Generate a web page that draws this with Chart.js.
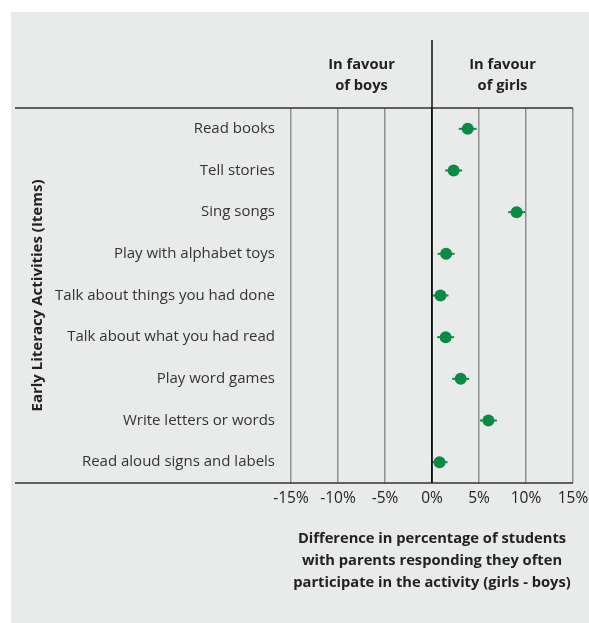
<!DOCTYPE html>
<html>
<head>
<meta charset="utf-8">
<script src="https://cdn.jsdelivr.net/npm/chart.js@4"></script>
<style>
  body { margin: 0; background: #fff; }
  #panel { position: absolute; left: 11px; top: 12px; width: 578px; height: 611px; background: #e9ebea; }
</style>
</head>
<body>
<div id="panel"><canvas id="chart" width="578" height="611"></canvas></div>
<script>
const activities = [
  "Read books",
  "Tell stories",
  "Sing songs",
  "Play with alphabet toys",
  "Talk about things you had done",
  "Talk about what you had read",
  "Play word games",
  "Write letters or words",
  "Read aloud signs and labels"
];
const difference = [3.8, 2.3, 9.0, 1.5, 0.9, 1.45, 3.05, 6.0, 0.8];
const errorHalf = [0.95, 0.9, 0.9, 0.9, 0.85, 0.9, 0.9, 0.9, 0.85];
const xTicks = [-15, -10, -5, 0, 5, 10, 15];

const green = "#0b8a45";
const font = "'Open Sans', sans-serif";

// whiskers, header text and frame lines
const extras = {
  id: "extras",
  beforeDatasetsDraw(chart) {
    const ctx = chart.ctx, x = chart.scales.x, y = chart.scales.y;
    ctx.save();
    ctx.strokeStyle = green;
    ctx.lineWidth = 2;
    difference.forEach((v, i) => {
      const py = y.getPixelForValue(i);
      ctx.beginPath();
      ctx.moveTo(x.getPixelForValue(v - errorHalf[i]), py);
      ctx.lineTo(x.getPixelForValue(v + errorHalf[i]), py);
      ctx.stroke();
    });
    ctx.restore();
  },
  afterDraw(chart) {
    const ctx = chart.ctx, a = chart.chartArea, x = chart.scales.x;
    ctx.save();
    ctx.strokeStyle = "#333";
    ctx.lineWidth = 1.5;
    ctx.beginPath();
    ctx.moveTo(4, a.top); ctx.lineTo(a.right, a.top);
    ctx.moveTo(4, a.bottom); ctx.lineTo(a.right, a.bottom);
    ctx.stroke();
    const x0 = x.getPixelForValue(0);
    ctx.strokeStyle = "#111";
    ctx.beginPath();
    ctx.moveTo(x0, 28); ctx.lineTo(x0, a.bottom);
    ctx.stroke();

    ctx.fillStyle = "#222";
    ctx.font = "bold 14.7px " + font;
    ctx.textAlign = "center";
    ctx.textBaseline = "middle";
    const boysX = (x.getPixelForValue(-15) + x0) / 2;
    const girlsX = (x.getPixelForValue(15) + x0) / 2;
    ctx.fillText("In favour", boysX, 52.5);
    ctx.fillText("of boys", boysX, 73.5);
    ctx.fillText("In favour", girlsX, 52.5);
    ctx.fillText("of girls", girlsX, 73.5);
    ctx.restore();
  }
};

new Chart(document.getElementById("chart"), {
  type: "scatter",
  data: {
    labels: activities,
    datasets: [{
      data: difference.map((v, i) => ({ x: v, y: activities[i] })),
      backgroundColor: green,
      borderColor: green,
      pointRadius: 6,
      pointBorderWidth: 0
    }]
  },
  options: {
    responsive: false,
    animation: false,
    layout: { padding: { top: 96, right: 16, left: 0, bottom: 0 } },
    plugins: { legend: { display: false }, tooltip: { enabled: false } },
    scales: {
      x: {
        type: "linear",
        min: -15,
        max: 15,
        afterBuildTicks: s => { s.ticks = xTicks.map(v => ({ value: v })); },
        afterFit: s => { s.height = 140; s.paddingLeft = 0; s.paddingRight = 0; },
        border: { display: false },
        grid: {
          drawTicks: false,
          lineWidth: 1.5,
          color: c => (c.tick && c.tick.value === 0) ? "#111" : "#8f8f8f"
        },
        ticks: {
          padding: 6,
          color: "#222",
          font: { family: font, size: 15.5 },
          callback: v => v + "%"
        },
        title: {
          display: true,
          text: ["Difference in percentage of students",
                 "with parents responding they often",
                 "participate in the activity (girls - boys)"],
          color: "#222",
          font: { family: font, size: 14.7, weight: "bold", lineHeight: 1.5 },
          padding: { top: 0, bottom: 29 }
        }
      },
      y: {
        type: "category",
        labels: activities,
        offset: true,
        afterFit: s => { s.width = 280; },
        border: { display: false },
        grid: { display: false, drawTicks: false },
        ticks: {
          padding: 16,
          color: "#333",
          font: { family: font, size: 15 }
        },
        title: {
          display: true,
          text: "Early Literacy Activities (Items)",
          color: "#222",
          font: { family: font, size: 15, weight: "bold" },
          padding: { top: 18, bottom: 0 }
        }
      }
    }
  },
  plugins: [extras]
});
</script>
</body>
</html>
